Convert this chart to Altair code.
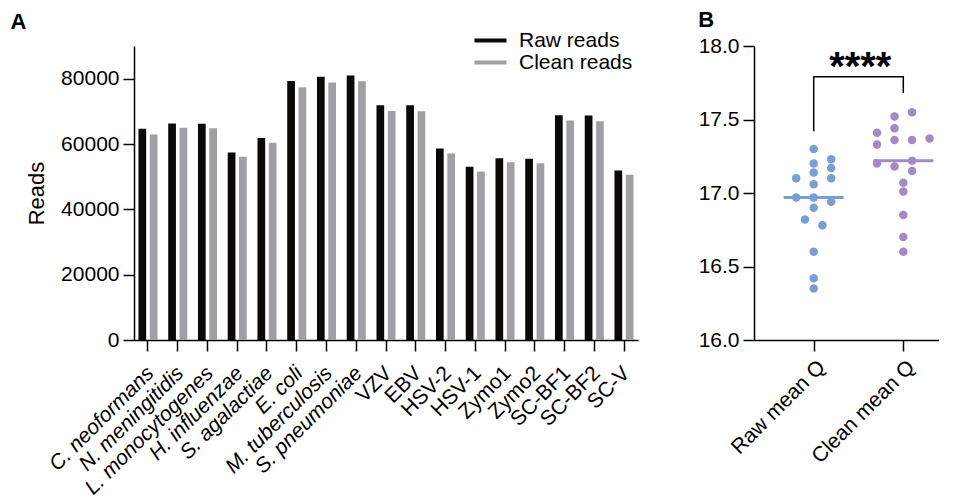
import altair as alt
import pandas as pd

FONT = "Arial"

# ---------------- Panel A data ----------------
categories = ["C. neoformans", "N. meningitidis", "L. monocytogenes", "H. influenzae",
              "S. agalactiae", "E. coli", "M. tuberculosis", "S. pneumoniae", "VZV", "EBV",
              "HSV-2", "HSV-1", "Zymo1", "Zymo2", "SC-BF1", "SC-BF2", "SC-V"]
raw_reads = [64700, 66300, 66200, 57400, 61800, 79300, 80600, 81000, 71900, 71900,
             58600, 53000, 55600, 55500, 68800, 68700, 51900]
clean_reads = [62900, 65000, 64800, 56100, 60400, 77400, 78800, 79200, 70100, 70000,
               57100, 51600, 54400, 54100, 67200, 67000, 50600]
series_names = ["Raw reads", "Clean reads"]
series_colors = ["#0b0907", "#a0a0a4"]
y_ticks_a = [0, 20000, 40000, 60000, 80000]

# ---------------- Panel B data ----------------
groups_b = ["Raw mean Q", "Clean mean Q"]
raw_q = [17.30, 17.20, 17.23, 17.14, 17.17, 17.10, 17.10, 17.06, 16.97, 16.97,
         16.94, 16.90, 16.82, 16.78, 16.60, 16.42, 16.35]
raw_col = [0, 0, 2, 0, 2, -2, 2, 0, -2, 0, 2, 0, -1, 1, 0, 0, 0]
clean_q = [17.55, 17.52, 17.44, 17.41, 17.33, 17.36, 17.36, 17.37, 17.20, 17.18,
           17.22, 17.15, 17.07, 17.01, 16.85, 16.70, 16.60]
clean_col = [1, -1, -1, -3, -3, -1, 1, 3, -3, -1, 1, 1, 0, 0, 0, 0, 0]
group_colors = ["#7a9ed3", "#a48ac5"]
bracket_x = [1, 1, 2, 2]
bracket_y = [17.42, 17.79, 17.79, 17.68]
sig_label = "****"
sig_y = 17.77
y_ticks_b = [16.0, 16.5, 17.0, 17.5, 18.0]

# ---------------- Panel A ----------------
df_a = pd.DataFrame({
    "category": categories * 2,
    "series": [series_names[0]] * len(categories) + [series_names[1]] * len(categories),
    "reads": raw_reads + clean_reads,
})

panel_a = alt.Chart(df_a).mark_bar().encode(
    x=alt.X("category:N", sort=categories,
            scale=alt.Scale(paddingInner=0.36, paddingOuter=0.15),
            axis=alt.Axis(title=None, labelAngle=-45, labelPadding=11, labelOffset=-5,
                          labelFontStyle=alt.condition("indexof(datum.value, '. ') > 0",
                                                       alt.value("italic"), alt.value("normal")))),
    xOffset=alt.XOffset("series:N", sort=series_names, scale=alt.Scale(paddingInner=0.32)),
    y=alt.Y("reads:Q", scale=alt.Scale(domain=[0, 90000], nice=False),
            axis=alt.Axis(title="Reads", values=y_ticks_a, format="d", titlePadding=12,
                          labelPadding=4)),
    color=alt.Color("series:N", sort=series_names,
                    scale=alt.Scale(domain=series_names, range=series_colors),
                    legend=alt.Legend(title=None, orient="none", legendX=346, legendY=-16,
                                      symbolType="M-2,-0.24H2V0.24H-2Z", symbolSize=256,
                                      symbolStrokeWidth=0, labelFontSize=21, labelOffset=18,
                                      rowPadding=0, labelFont=FONT, labelColor="black")),
).properties(
    width=504, height=294,
    title=alt.TitleParams("A", anchor="start", frame="bounds", dx=-15, fontSize=22,
                          fontWeight="bold", font=FONT, offset=-4, color="black"),
)

# ---------------- Panel B ----------------
df_b = pd.DataFrame({
    "group": [groups_b[0]] * len(raw_q) + [groups_b[1]] * len(clean_q),
    "gpos": [1] * len(raw_q) + [2] * len(clean_q),
    "q": raw_q + clean_q,
    "col": raw_col + clean_col,
})
df_br = pd.DataFrame({"bx": bracket_x, "by": bracket_y, "ord": list(range(len(bracket_x)))})
df_sig = pd.DataFrame({"sx": [1.52], "sy": [sig_y], "txt": [sig_label]})

STEP = 89.6
WB = 185
XLO = 1 - 59.7 / STEP
XHI = XLO + WB / STEP
xscale = alt.Scale(domain=[XLO, XHI], nice=False, zero=False)
yscale = alt.Scale(domain=[16, 18], nice=False, zero=False)
cscale = alt.Scale(domain=groups_b, range=group_colors)

label_expr = "datum.value == 1 ? '%s' : '%s'" % (groups_b[0], groups_b[1])

points = alt.Chart(df_b).transform_calculate(
    xpos="datum.gpos + datum.col * 0.0977"
).mark_circle(size=72, opacity=1).encode(
    x=alt.X("xpos:Q", scale=xscale,
            axis=alt.Axis(title=None, values=[1, 2], labelExpr=label_expr, labelAngle=-45,
                          labelPadding=5)),
    y=alt.Y("q:Q", scale=yscale,
            axis=alt.Axis(title=None, values=y_ticks_b, format=".1f", labelPadding=4)),
    color=alt.Color("group:N", scale=cscale, legend=None),
)

medians = alt.Chart(df_b).transform_aggregate(
    med="median(q)", groupby=["group", "gpos"]
).transform_calculate(
    x1="datum.gpos - 0.335", x2="datum.gpos + 0.335"
).mark_rule(strokeWidth=3).encode(
    x=alt.X("x1:Q", scale=xscale),
    x2="x2:Q",
    y=alt.Y("med:Q", scale=yscale),
    color=alt.Color("group:N", scale=cscale, legend=None),
)

bracket = alt.Chart(df_br).mark_line(color="black", strokeWidth=1.5).encode(
    x=alt.X("bx:Q", scale=xscale),
    y=alt.Y("by:Q", scale=yscale),
    order="ord:Q",
)

stars = alt.Chart(df_sig).mark_text(fontSize=40, fontWeight="bold", font=FONT,
                                    baseline="alphabetic", align="center", color="black").encode(
    x=alt.X("sx:Q", scale=xscale),
    y=alt.Y("sy:Q", scale=yscale),
    text="txt:N",
)

panel_b = alt.layer(points, medians, bracket, stars).properties(
    width=WB, height=294,
    title=alt.TitleParams("B", anchor="start", frame="bounds", dx=0, fontSize=22,
                          fontWeight="bold", font=FONT, offset=3, color="black"),
)

chart = alt.hconcat(panel_a, panel_b, spacing=60).resolve_scale(
    color="independent"
).resolve_legend(color="independent").properties(
    padding={"left": 2, "top": 1, "right": 0, "bottom": 0}
).configure(font=FONT).configure_view(stroke=None).configure_axis(
    grid=False, domainColor="black", tickColor="black", domainWidth=1.5, tickWidth=1.5,
    tickSize=11, labelColor="black", titleColor="black", labelFont=FONT, titleFont=FONT,
    labelFontSize=21, titleFontSize=22, titleFontWeight="normal",
)

chart.save("out.html", embed_options={"renderer": "svg", "actions": False})
